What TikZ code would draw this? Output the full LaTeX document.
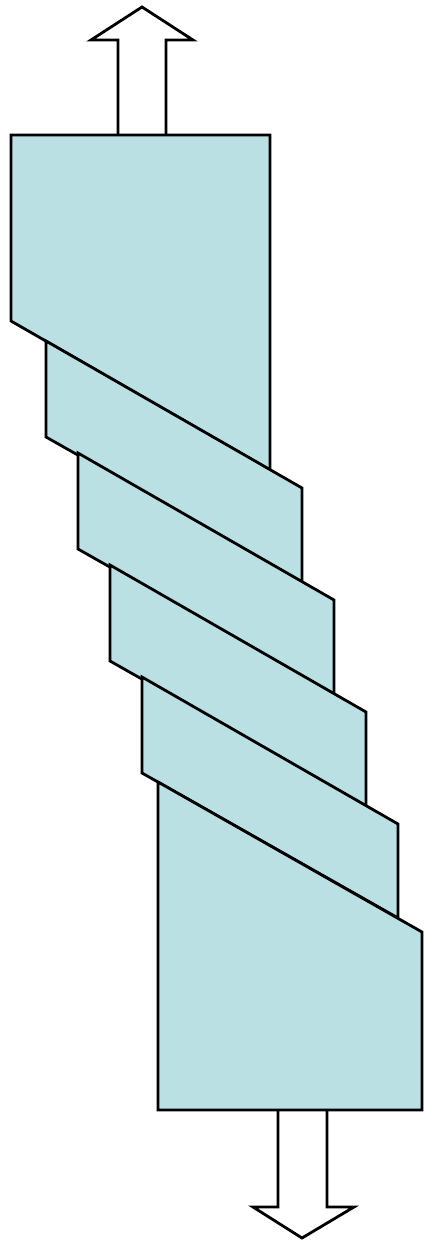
\documentclass[tikz,border=0pt]{standalone}
\definecolor{bandfill}{RGB}{187,224,227}
\tikzset{
  piece/.style={fill=bandfill, draw=black, line width=2.8pt, line join=miter},
  hollowarrow/.style={fill=white, draw=black, line width=2.8pt, line join=miter}
}
\begin{document}
\begin{tikzpicture}[x=1pt,y=-1pt]
\useasboundingbox (0,0) rectangle (423,1244);
% arrows
\draw[hollowarrow] (118,136) -- (118,40) -- (91,40) -- (142,7) -- (193,40) -- (166,40) -- (166,136);
\draw[hollowarrow] (278,1109) -- (278,1207) -- (253,1207) -- (302,1238) -- (354,1207) -- (327,1207) -- (327,1109);
% top block
\draw[piece] (11,135) -- (270,135) -- (270,470) -- (11,321) -- cycle;
% bands
\foreach \k in {0,1,2,3}{
  \draw[piece] ({46+32*\k},{341+112*\k}) -- ({302+32*\k},{488+112*\k}) -- ({302+32*\k},{582+112*\k}) -- ({46+32*\k},{437+112*\k}) -- cycle;
}
% bottom block
\draw[piece] (158,782) -- (422,932) -- (422,1110) -- (158,1110) -- cycle;
\end{tikzpicture}
\end{document}
